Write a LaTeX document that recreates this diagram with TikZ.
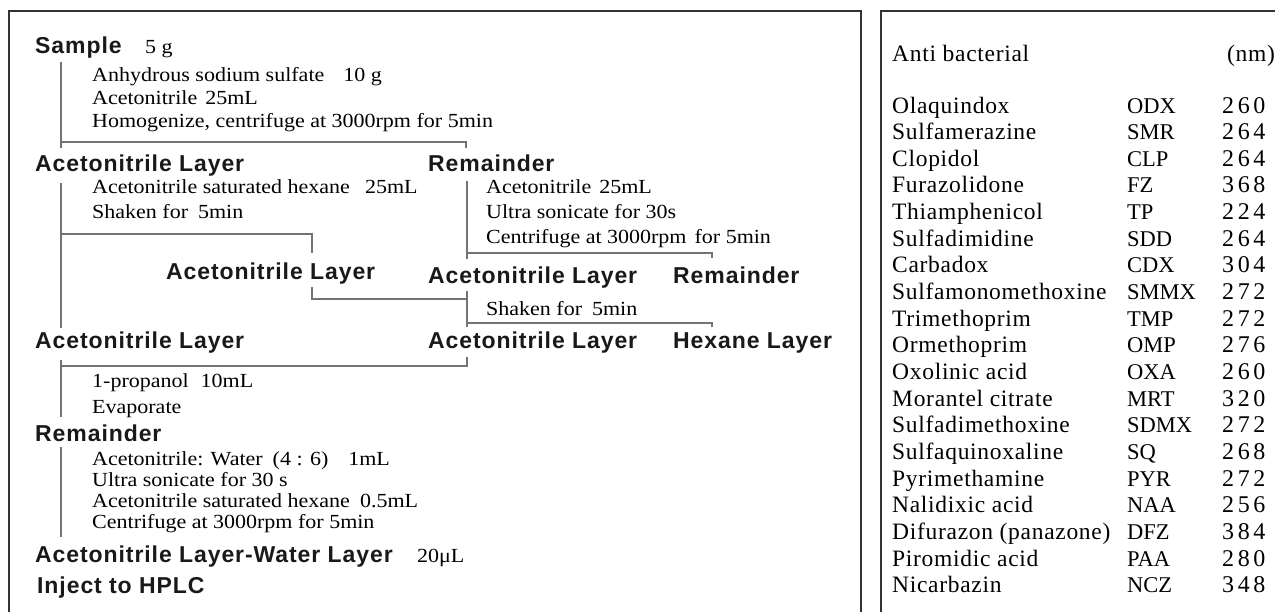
\documentclass[tikz,border=0pt]{standalone}
\usepackage{fontspec}
\setmainfont{Liberation Serif}
\newfontfamily\hdfont[LetterSpace=4]{Liberation Sans}
\newfontfamily\prfont[FakeStretch=1.1]{Liberation Serif}
\newfontfamily\tbfont[LetterSpace=3]{Liberation Serif}
\newfontfamily\numfont[LetterSpace=15]{Liberation Serif}
\tikzset{
  hd/.style={anchor=base west, inner sep=0pt, text=black!90, font=\hdfont\bfseries\fontsize{23}{23}\selectfont},
  pr/.style={anchor=base west, inner sep=0pt, text=black, font=\prfont\fontsize{20}{23}\selectfont},
  tb/.style={anchor=base west, inner sep=0pt, font=\tbfont\fontsize{23.5}{26}\selectfont},
  ab/.style={anchor=base west, inner sep=0pt, font=\rmfamily\fontsize{22.5}{26}\selectfont},
  nm/.style={anchor=base west, inner sep=0pt, font=\numfont\fontsize{24}{26}\selectfont},
  conn/.style={draw=black!55, line width=1.5pt},
  frame/.style={draw=black!80, line width=1.5pt}
}
\begin{document}
\begin{tikzpicture}[x=1pt,y=-1pt]
\useasboundingbox (0,0) rectangle (1275,611);
% frames
\coordinate (fl1) at (9,620); \coordinate (fl2) at (9,11);
\coordinate (fl3) at (861,11); \coordinate (fl4) at (861,620);
\draw[frame] (fl1) -- (fl2) -- (fl3) -- (fl4);
\coordinate (fr1) at (881,620); \coordinate (fr2) at (881,11); \coordinate (fr3) at (1285,11);
\draw[frame] (fr1) -- (fr2) -- (fr3);

% left panel texts
\node[hd] (sample) at (35,53) {Sample};
\node[pr] (five) at (145,53) {5 g};
\node[pr] (p1) at (92,81) {Anhydrous sodium sulfate\hspace{19pt}10 g};
\node[pr] (p2) at (92,104) {Acetonitrile\hspace{8pt}25mL};
\node[pr] (p3) at (92,127) {Homogenize, centrifuge at 3000rpm for 5min};
\node[hd] (al1) at (35,171) {Acetonitrile Layer};
\node[hd] (rem1) at (428,171) {Remainder};
\node[pr] (p4) at (92,193) {Acetonitrile saturated hexane\hspace{15pt}25mL};
\node[pr] (p5) at (92,218) {Shaken for\hspace{10pt}5min};
\node[pr] (p6) at (486,193) {Acetonitrile\hspace{8pt}25mL};
\node[pr] (p7) at (486,218) {Ultra sonicate for 30s};
\node[pr] (p8) at (486,243) {Centrifuge at 3000rpm\hspace{8pt}for 5min};
\node[hd] (alm) at (166,279) {Acetonitrile Layer};
\node[hd] (al2) at (428,283) {Acetonitrile Layer};
\node[hd] (rem2) at (673,283) {Remainder};
\node[pr] (p9) at (486,315) {Shaken for\hspace{10pt}5min};
\node[hd] (al3) at (35,348) {Acetonitrile Layer};
\node[hd] (al4) at (428,348) {Acetonitrile Layer};
\node[hd] (hex) at (673,348) {Hexane Layer};
\node[pr] (p10) at (92,387) {1-propanol\hspace{12pt}10mL};
\node[pr] (p11) at (92,413) {Evaporate};
\node[hd] (rem3) at (35,441) {Remainder};
\node[pr] (p12) at (92,465) {Acetonitrile: Water\hspace{10pt}(4 : 6)\hspace{20pt}1mL};
\node[pr] (p13) at (92,486) {Ultra sonicate for 30 s};
\node[pr] (p14) at (92,507) {Acetonitrile saturated hexane\hspace{10pt}0.5mL};
\node[pr] (p15) at (92,528) {Centrifuge at 3000rpm for 5min};
\node[hd] (alw) at (35,562) {Acetonitrile Layer-Water Layer};
\node[pr] (twenty) at (417,562) {20μL};
\node[hd] (inj) at (37,593) {Inject to HPLC};

% connectors
\coordinate (c1a) at (61,62); \coordinate (c1b) at (61,148);
\coordinate (c1c) at (61,142); \coordinate (c1d) at (466,142); \coordinate (c1e) at (466,148);
\draw[conn] (c1a) -- (c1b);
\draw[conn] (c1c) -- (c1d) -- (c1e);

\coordinate (c2a) at (61,183); \coordinate (c2b) at (61,328);
\coordinate (c2c) at (61,234); \coordinate (c2d) at (312,234); \coordinate (c2e) at (312,253);
\draw[conn] (c2a) -- (c2b);
\draw[conn] (c2c) -- (c2d) -- (c2e);

\coordinate (c3a) at (467,181); \coordinate (c3b) at (467,259);
\coordinate (c3c) at (467,253); \coordinate (c3d) at (712,253); \coordinate (c3e) at (712,258);
\draw[conn] (c3a) -- (c3b);
\draw[conn] (c3c) -- (c3d) -- (c3e);

\coordinate (c4a) at (312,287); \coordinate (c4b) at (312,299); \coordinate (c4c) at (467,299);
\draw[conn] (c4a) -- (c4b) -- (c4c);

\coordinate (c5a) at (467,291); \coordinate (c5b) at (467,327);
\coordinate (c5c) at (467,323); \coordinate (c5d) at (712,323); \coordinate (c5e) at (712,327);
\draw[conn] (c5a) -- (c5b);
\draw[conn] (c5c) -- (c5d) -- (c5e);

\coordinate (c6a) at (467,357); \coordinate (c6b) at (467,366); \coordinate (c6c) at (61,366);
\draw[conn] (c6a) -- (c6b) -- (c6c);
\coordinate (c6d) at (61,360); \coordinate (c6e) at (61,417);
\draw[conn] (c6d) -- (c6e);

\coordinate (c7a) at (61,447); \coordinate (c7b) at (61,537);
\draw[conn] (c7a) -- (c7b);

% right table
\node[tb] (head) at (892,61) {Anti bacterial};
\node[tb] (unit) at (1227,61) {(nm)};
\foreach \nme/\abr/\val [count=\i from 0] in {
  Olaquindox/ODX/260, Sulfamerazine/SMR/264, Clopidol/CLP/264,
  Furazolidone/FZ/368, Thiamphenicol/TP/224, Sulfadimidine/SDD/264,
  Carbadox/CDX/304, Sulfamonomethoxine/SMMX/272, Trimethoprim/TMP/272,
  Ormethoprim/OMP/276, Oxolinic acid/OXA/260, Morantel citrate/MRT/320,
  Sulfadimethoxine/SDMX/272, Sulfaquinoxaline/SQ/268, Pyrimethamine/PYR/272,
  Nalidixic acid/NAA/256, {Difurazon (panazone)}/DFZ/384, Piromidic acid/PAA/280,
  Nicarbazin/NCZ/348}{
  \pgfmathsetmacro{\yy}{113+\i*26.65}
  \node[tb] (name\i) at (892,\yy) {\nme};
  \node[ab] (abbr\i) at (1127,\yy) {\abr};
  \node[nm] (num\i) at (1222,\yy) {\val};
}
\end{tikzpicture}
\end{document}
